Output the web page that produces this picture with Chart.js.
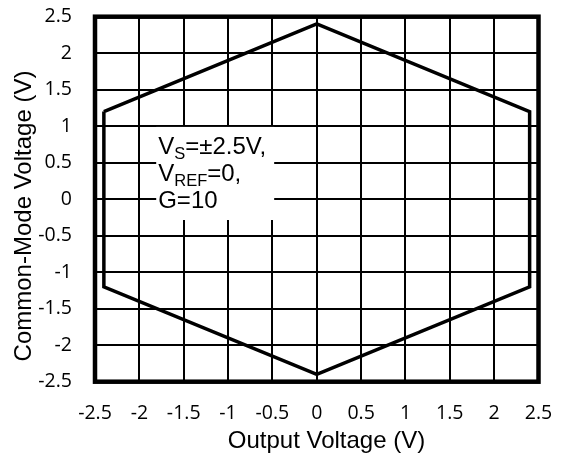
<!DOCTYPE html>
<html>
<head>
<meta charset="utf-8">
<script src="https://cdn.jsdelivr.net/npm/chart.js@4.4.1/dist/chart.umd.min.js"></script>
<style>
  body { margin: 0; background: #fff; }
  #wrap { width: 562px; height: 454px; }
</style>
</head>
<body>
<div id="wrap"><canvas id="cmv" width="562" height="454"></canvas></div>
<script>
// hexagon outline, closed back to the first corner
var outputV = [-2.4, 0, 2.4, 2.4, 0, -2.4, -2.4];
var commonV = [1.2, 2.4, 1.2, -1.2, -2.4, -1.2, 1.2];
var tickVals = [-2.5, -2, -1.5, -1, -0.5, 0, 0.5, 1, 1.5, 2, 2.5];
var tickLabels = ['-2.5', '-2', '-1.5', '-1', '-0.5', '0', '0.5', '1', '1.5', '2', '2.5'];
var xTitle = 'Output Voltage (V)';
var yTitle = 'Common-Mode Voltage (V)';
var noteLines = [
  [{t: 'V'}, {t: 'S', sub: true}, {t: '=\u00b12.5V,'}],
  [{t: 'V'}, {t: 'REF', sub: true}, {t: '=0,'}],
  [{t: 'G=10'}]
];

var points = outputV.map(function (x, i) { return {x: x, y: commonV[i]}; });

function setTicks(scale) {
  scale.ticks = tickVals.map(function (v) { return {value: v}; });
}
function tickText(value) {
  var i = tickVals.indexOf(value);
  return i >= 0 ? tickLabels[i] : '';
}
// labels hanging past the plot edges should not shrink the plot
function noPad(s) {
  s.paddingTop = 0; s.paddingBottom = 0; s.paddingLeft = 0; s.paddingRight = 0;
}

var mainFont = '24px "Liberation Sans", Arial, sans-serif';
var subFont = '16.5px "Liberation Sans", Arial, sans-serif';
var titleFont = '24px "Liberation Sans", Arial, sans-serif';

var extras = {
  id: 'extras',
  beforeDatasetsDraw: function (chart) {
    var ctx = chart.ctx, xs = chart.scales.x, ys = chart.scales.y;
    // note box, white so it hides the grid behind it
    var bx = xs.getPixelForValue(-1.81), by = ys.getPixelForValue(0.99);
    var bw = xs.getPixelForValue(-0.48) - bx, bh = ys.getPixelForValue(-0.285) - by;
    ctx.save();
    ctx.fillStyle = '#fff';
    ctx.fillRect(bx, by, bw, bh);
    ctx.fillStyle = '#000';
    ctx.textBaseline = 'alphabetic';
    ctx.textAlign = 'left';
    noteLines.forEach(function (runs, li) {
      var x = bx + 2, y = by + 27 + li * 27;
      runs.forEach(function (r) {
        ctx.font = r.sub ? subFont : mainFont;
        ctx.fillText(r.t, x, r.sub ? y + 5 : y);
        x += ctx.measureText(r.t).width;
      });
    });
    ctx.restore();
  },
  afterDatasetsDraw: function (chart) {
    var ctx = chart.ctx, a = chart.chartArea;
    ctx.save();
    ctx.strokeStyle = '#000';
    ctx.lineWidth = 4.5;
    ctx.strokeRect(a.left, a.top, a.right - a.left, a.bottom - a.top);
    ctx.fillStyle = '#000';
    ctx.font = titleFont;
    ctx.textAlign = 'center';
    ctx.textBaseline = 'middle';
    ctx.fillText(xTitle, 326.5, 441.5);
    ctx.translate(24, 216);
    ctx.rotate(-Math.PI / 2);
    ctx.fillText(yTitle, 0, 0);
    ctx.restore();
  }
};

var chart = new Chart(document.getElementById('cmv'), {
  type: 'scatter',
  data: {
    datasets: [{
      data: points,
      showLine: true,
      borderColor: '#000',
      borderWidth: 3.5,
      borderJoinStyle: 'miter',
      pointRadius: 0,
      fill: false
    }]
  },
  options: {
    responsive: false,
    animation: false,
    layout: { padding: { top: 16.7, right: 23.5, left: 0, bottom: 0 } },
    plugins: {
      legend: { display: false },
      tooltip: { enabled: false }
    },
    scales: {
      x: {
        type: 'linear',
        min: -2.5,
        max: 2.5,
        afterBuildTicks: setTicks,
        afterFit: function (s) { s.height = 72.3; noPad(s); },
        grid: { color: '#000', lineWidth: 2, drawTicks: false },
        border: { display: false },
        ticks: {
          padding: 20,
          color: '#000',
          font: { family: '"Open Sans"', size: 19.5 },
          maxRotation: 0,
          autoSkip: false,
          callback: tickText
        }
      },
      y: {
        type: 'linear',
        min: -2.5,
        max: 2.5,
        afterBuildTicks: setTicks,
        afterFit: function (s) { s.width = 95; noPad(s); },
        grid: { color: '#000', lineWidth: 2, drawTicks: false },
        border: { display: false },
        ticks: {
          padding: 23,
          color: '#000',
          font: { family: '"Open Sans"', size: 19.5 },
          autoSkip: false,
          callback: tickText
        }
      }
    }
  },
  plugins: [extras]
});
</script>
</body>
</html>
